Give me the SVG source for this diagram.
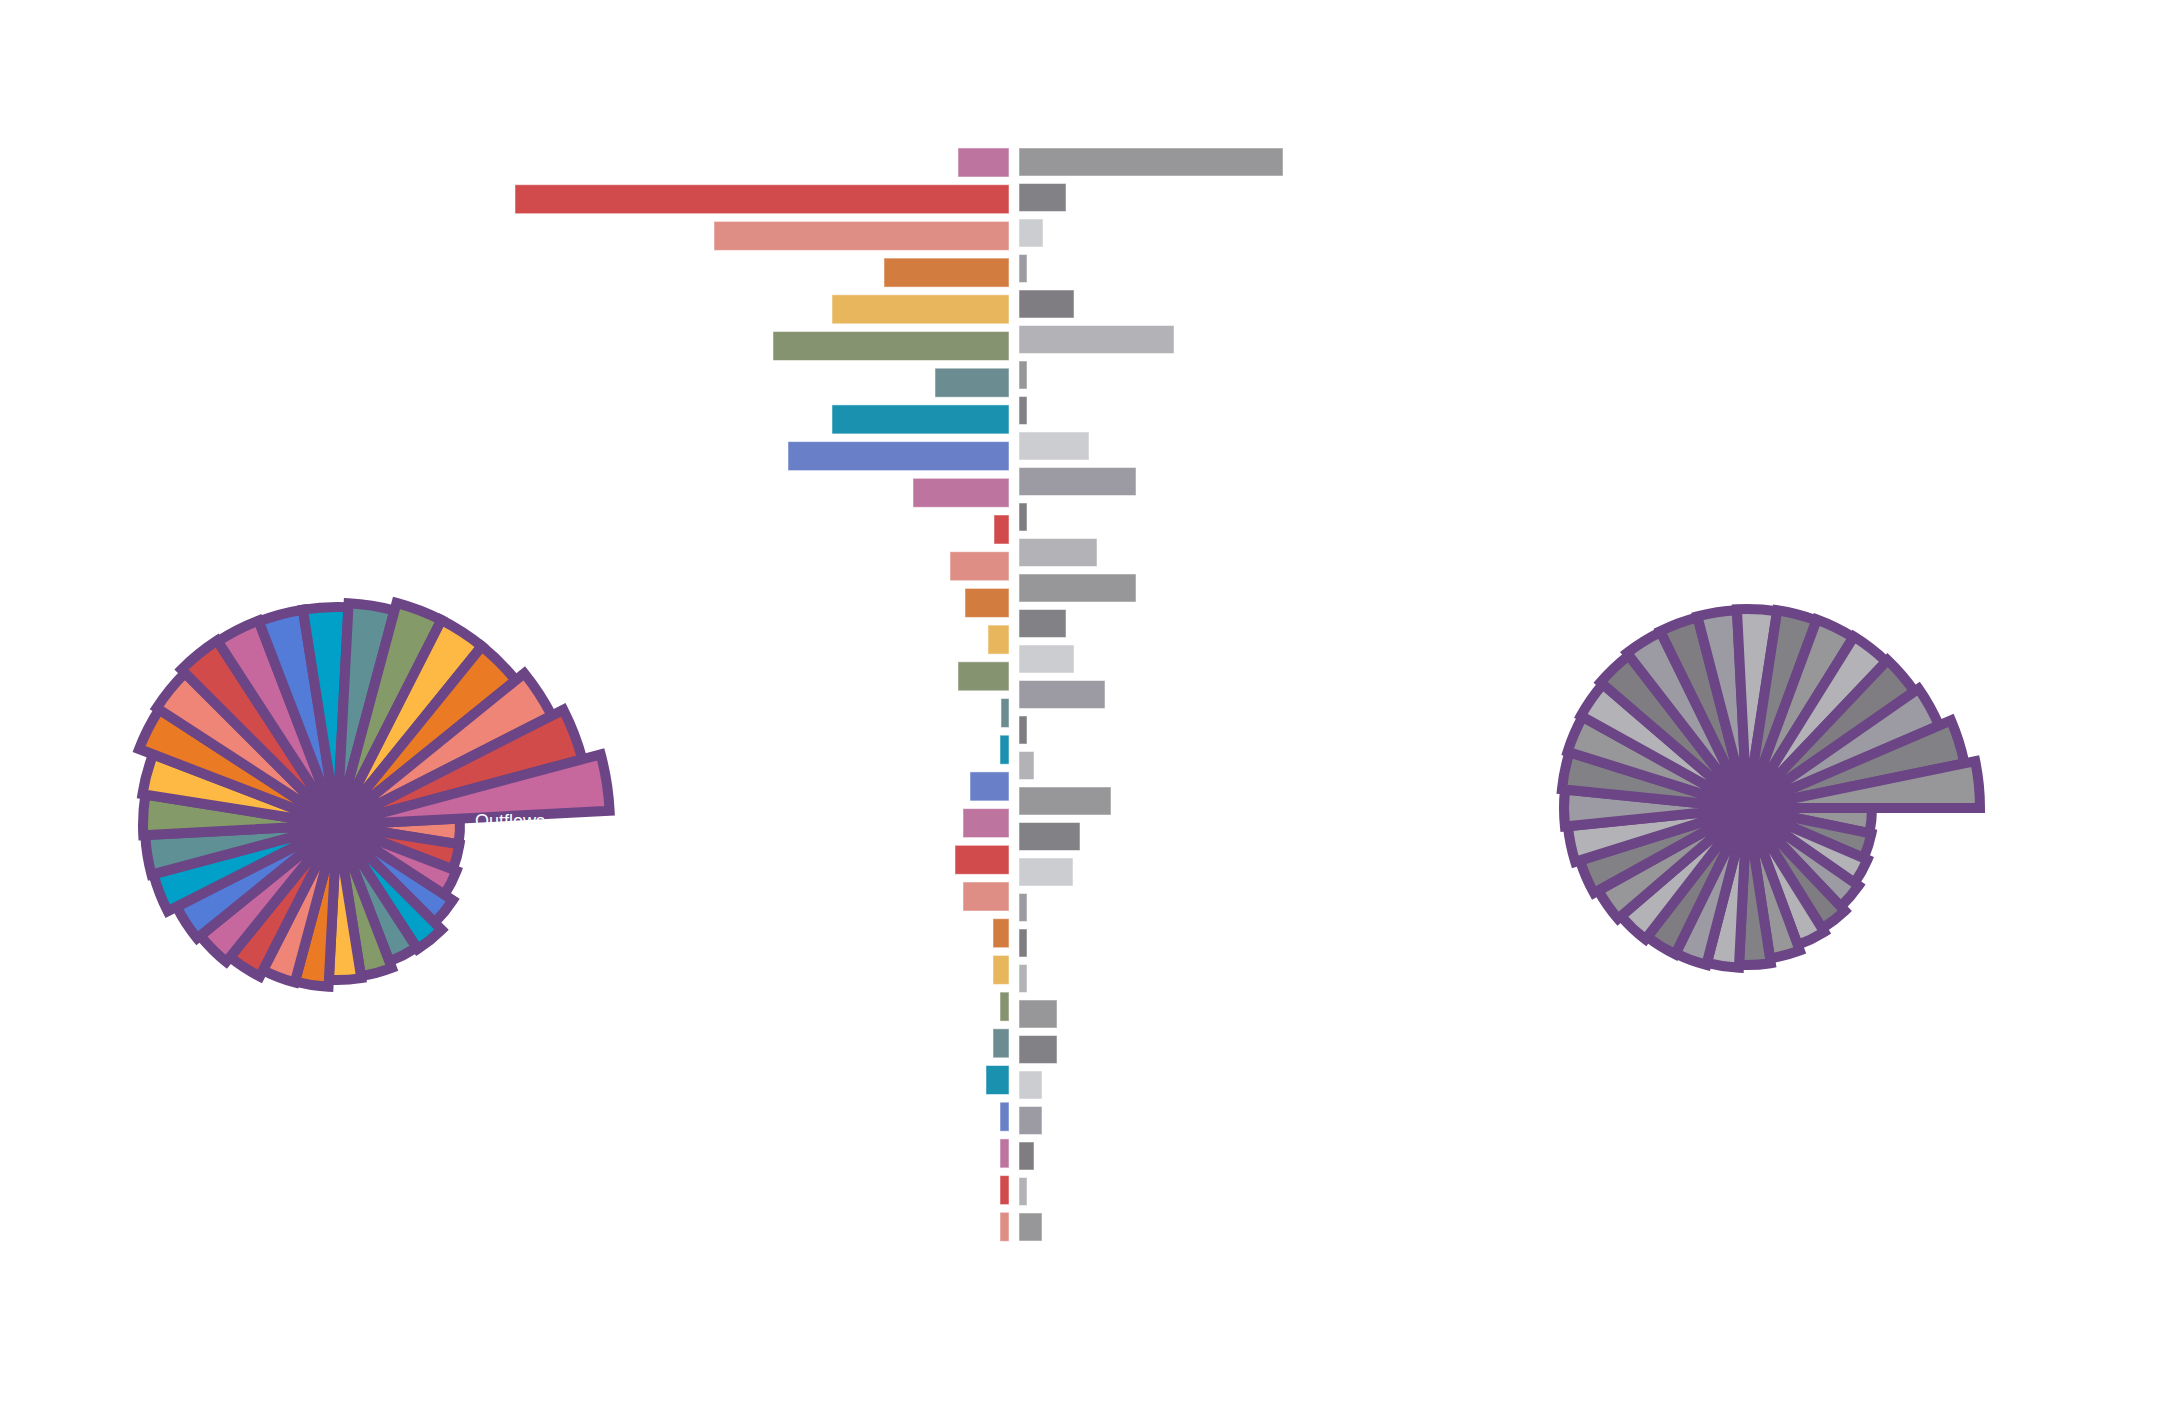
<svg xmlns="http://www.w3.org/2000/svg" width="2160" height="1419" viewBox="0 0 2160 1419">
<style>
.w{stroke:#6b4585;stroke-width:10;stroke-linejoin:miter}
.b{stroke:#fff;stroke-opacity:.5;stroke-width:1}
.c0{fill:#ef8577}.c1{fill:#d14b4b}.c2{fill:#c6679e}.c3{fill:#537bd8}.c4{fill:#00a0c8}.c5{fill:#5f9095}.c6{fill:#849a69}.c7{fill:#fdb944}.c8{fill:#eb7a25}
.g0{fill:#979799}.g1{fill:#828186}.g2{fill:#cccdd1}.g3{fill:#9c9ba3}.g4{fill:#7f7d81}.g5{fill:#b3b2b7}
.l0{fill:#bd75a0}.l1{fill:#d24b4c}.l2{fill:#de8e85}.l3{fill:#d27c3f}.l4{fill:#e8b65d}.l5{fill:#869370}.l6{fill:#6b8c91}.l7{fill:#1a91ae}.l8{fill:#6980c8}
.lab{fill:#fff;font-family:"Liberation Sans",Arial,sans-serif;font-size:18px}
</style>
<rect width="2160" height="1419" fill="#fff"/>
<g id="rose-left" transform="translate(337,825)">
<path class="w c0" transform="rotate(-3)" d="M0,0L123,0A123,123 0 0 1 120.31,25.57Z"/>
<path class="w c1" transform="rotate(9)" d="M0,0L124,0A124,124 0 0 1 121.29,25.78Z"/>
<path class="w c2" transform="rotate(21)" d="M0,0L128,0A128,128 0 0 1 125.2,26.61Z"/>
<path class="w c3" transform="rotate(33)" d="M0,0L138,0A138,138 0 0 1 134.98,28.69Z"/>
<path class="w c4" transform="rotate(45)" d="M0,0L148,0A148,148 0 0 1 144.77,30.77Z"/>
<path class="w c5" transform="rotate(57)" d="M0,0L146,0A146,146 0 0 1 142.81,30.35Z"/>
<path class="w c6" transform="rotate(69)" d="M0,0L153,0A153,153 0 0 1 149.66,31.81Z"/>
<path class="w c7" transform="rotate(81)" d="M0,0L155,0A155,155 0 0 1 151.61,32.23Z"/>
<path class="w c8" transform="rotate(93)" d="M0,0L162,0A162,162 0 0 1 158.46,33.68Z"/>
<path class="w c0" transform="rotate(105)" d="M0,0L163,0A163,163 0 0 1 159.44,33.89Z"/>
<path class="w c1" transform="rotate(117)" d="M0,0L170,0A170,170 0 0 1 166.29,35.34Z"/>
<path class="w c2" transform="rotate(129)" d="M0,0L176,0A176,176 0 0 1 172.15,36.59Z"/>
<path class="w c3" transform="rotate(141)" d="M0,0L180,0A180,180 0 0 1 176.07,37.42Z"/>
<path class="w c4" transform="rotate(153)" d="M0,0L190,0A190,190 0 0 1 185.85,39.5Z"/>
<path class="w c5" transform="rotate(165)" d="M0,0L192,0A192,192 0 0 1 187.8,39.92Z"/>
<path class="w c6" transform="rotate(177)" d="M0,0L194,0A194,194 0 0 1 189.76,40.33Z"/>
<path class="w c7" transform="rotate(189)" d="M0,0L197,0A197,197 0 0 1 192.7,40.96Z"/>
<path class="w c8" transform="rotate(201)" d="M0,0L212,0A212,212 0 0 1 207.37,44.08Z"/>
<path class="w c0" transform="rotate(213)" d="M0,0L215,0A215,215 0 0 1 210.3,44.7Z"/>
<path class="w c1" transform="rotate(225)" d="M0,0L220,0A220,220 0 0 1 215.19,45.74Z"/>
<path class="w c2" transform="rotate(237)" d="M0,0L219,0A219,219 0 0 1 214.21,45.53Z"/>
<path class="w c3" transform="rotate(249)" d="M0,0L218,0A218,218 0 0 1 213.23,45.32Z"/>
<path class="w c4" transform="rotate(261)" d="M0,0L218,0A218,218 0 0 1 213.23,45.32Z"/>
<path class="w c5" transform="rotate(273)" d="M0,0L222,0A222,222 0 0 1 217.15,46.16Z"/>
<path class="w c6" transform="rotate(285)" d="M0,0L230,0A230,230 0 0 1 224.97,47.82Z"/>
<path class="w c7" transform="rotate(297)" d="M0,0L230,0A230,230 0 0 1 224.97,47.82Z"/>
<path class="w c8" transform="rotate(309)" d="M0,0L230,0A230,230 0 0 1 224.97,47.82Z"/>
<path class="w c0" transform="rotate(321)" d="M0,0L241,0A241,241 0 0 1 235.73,50.11Z"/>
<path class="w c1" transform="rotate(333)" d="M0,0L254,0A254,254 0 0 1 248.45,52.81Z"/>
<path class="w c2" transform="rotate(345)" d="M0,0L273,0A273,273 0 0 1 267.03,56.76Z"/>
<circle r="47" fill="#6b4585"/>
<text class="lab" x="138" y="2">Outflows</text>
</g>
<g id="rose-right" transform="translate(1747,808)">
<path class="w g0" transform="rotate(0)" d="M0,0L125,0A125,125 0 0 1 122.44,25.16Z"/>
<path class="w g1" transform="rotate(11.61)" d="M0,0L127,0A127,127 0 0 1 124.4,25.56Z"/>
<path class="w g5" transform="rotate(23.23)" d="M0,0L131,0A131,131 0 0 1 128.32,26.37Z"/>
<path class="w g3" transform="rotate(34.84)" d="M0,0L136,0A136,136 0 0 1 133.22,27.37Z"/>
<path class="w g4" transform="rotate(46.45)" d="M0,0L142,0A142,142 0 0 1 139.09,28.58Z"/>
<path class="w g5" transform="rotate(58.06)" d="M0,0L146,0A146,146 0 0 1 143.01,29.39Z"/>
<path class="w g0" transform="rotate(69.68)" d="M0,0L152,0A152,152 0 0 1 148.89,30.59Z"/>
<path class="w g1" transform="rotate(81.29)" d="M0,0L157,0A157,157 0 0 1 153.79,31.6Z"/>
<path class="w g5" transform="rotate(92.9)" d="M0,0L160,0A160,160 0 0 1 156.72,32.2Z"/>
<path class="w g3" transform="rotate(104.52)" d="M0,0L162,0A162,162 0 0 1 158.68,32.61Z"/>
<path class="w g4" transform="rotate(116.13)" d="M0,0L163,0A163,163 0 0 1 159.66,32.81Z"/>
<path class="w g5" transform="rotate(127.74)" d="M0,0L166,0A166,166 0 0 1 162.6,33.41Z"/>
<path class="w g0" transform="rotate(139.35)" d="M0,0L170,0A170,170 0 0 1 166.52,34.22Z"/>
<path class="w g1" transform="rotate(150.97)" d="M0,0L175,0A175,175 0 0 1 171.42,35.22Z"/>
<path class="w g5" transform="rotate(162.58)" d="M0,0L180,0A180,180 0 0 1 176.32,36.23Z"/>
<path class="w g3" transform="rotate(174.19)" d="M0,0L183,0A183,183 0 0 1 179.25,36.83Z"/>
<path class="w g1" transform="rotate(185.81)" d="M0,0L186,0A186,186 0 0 1 182.19,37.44Z"/>
<path class="w g0" transform="rotate(197.42)" d="M0,0L188,0A188,188 0 0 1 184.15,37.84Z"/>
<path class="w g5" transform="rotate(209.03)" d="M0,0L190,0A190,190 0 0 1 186.11,38.24Z"/>
<path class="w g4" transform="rotate(220.65)" d="M0,0L193,0A193,193 0 0 1 189.05,38.85Z"/>
<path class="w g3" transform="rotate(232.26)" d="M0,0L196,0A196,196 0 0 1 191.99,39.45Z"/>
<path class="w g4" transform="rotate(243.87)" d="M0,0L197,0A197,197 0 0 1 192.97,39.65Z"/>
<path class="w g3" transform="rotate(255.48)" d="M0,0L198,0A198,198 0 0 1 193.95,39.85Z"/>
<path class="w g5" transform="rotate(267.1)" d="M0,0L199,0A199,199 0 0 1 194.93,40.05Z"/>
<path class="w g1" transform="rotate(278.71)" d="M0,0L200,0A200,200 0 0 1 195.91,40.25Z"/>
<path class="w g0" transform="rotate(290.32)" d="M0,0L201,0A201,201 0 0 1 196.89,40.46Z"/>
<path class="w g5" transform="rotate(301.94)" d="M0,0L202,0A202,202 0 0 1 197.87,40.66Z"/>
<path class="w g4" transform="rotate(313.55)" d="M0,0L204,0A204,204 0 0 1 199.82,41.06Z"/>
<path class="w g3" transform="rotate(325.16)" d="M0,0L209,0A209,209 0 0 1 204.72,42.07Z"/>
<path class="w g1" transform="rotate(336.77)" d="M0,0L222,0A222,222 0 0 1 217.46,44.68Z"/>
<path class="w g0" transform="rotate(348.39)" d="M0,0L233,0A233,233 0 0 1 228.23,46.9Z"/>
<circle r="47" fill="#6b4585"/>
<text class="lab" x="140" y="18">Population</text>
</g>
<g id="bars-left">
<rect class="b l0" x="958" y="148" width="51" height="29"/>
<rect class="b l1" x="515" y="184.7" width="494" height="29"/>
<rect class="b l2" x="714" y="221.4" width="295" height="29"/>
<rect class="b l3" x="884" y="258.1" width="125" height="29"/>
<rect class="b l4" x="832" y="294.8" width="177" height="29"/>
<rect class="b l5" x="773" y="331.5" width="236" height="29"/>
<rect class="b l6" x="935" y="368.2" width="74" height="29"/>
<rect class="b l7" x="832" y="404.9" width="177" height="29"/>
<rect class="b l8" x="788" y="441.6" width="221" height="29"/>
<rect class="b l0" x="913" y="478.3" width="96" height="29"/>
<rect class="b l1" x="994" y="515" width="15" height="29"/>
<rect class="b l2" x="950" y="551.7" width="59" height="29"/>
<rect class="b l3" x="965" y="588.4" width="44" height="29"/>
<rect class="b l4" x="988" y="625.1" width="21" height="29"/>
<rect class="b l5" x="958" y="661.8" width="51" height="29"/>
<rect class="b l6" x="1001" y="698.5" width="8" height="29"/>
<rect class="b l7" x="1000" y="735.2" width="9" height="29"/>
<rect class="b l8" x="970" y="771.9" width="39" height="29"/>
<rect class="b l0" x="963" y="808.6" width="46" height="29"/>
<rect class="b l1" x="955" y="845.3" width="54" height="29"/>
<rect class="b l2" x="963" y="882" width="46" height="29"/>
<rect class="b l3" x="993" y="918.7" width="16" height="29"/>
<rect class="b l4" x="993" y="955.4" width="16" height="29"/>
<rect class="b l5" x="1000" y="992.1" width="9" height="29"/>
<rect class="b l6" x="993" y="1028.8" width="16" height="29"/>
<rect class="b l7" x="986" y="1065.5" width="23" height="29"/>
<rect class="b l8" x="1000" y="1102.2" width="9" height="29"/>
<rect class="b l0" x="1000" y="1138.9" width="9" height="29"/>
<rect class="b l1" x="1000" y="1175.6" width="9" height="29"/>
<rect class="b l2" x="1000" y="1212.3" width="9" height="29"/>
</g>
<g id="bars-right">
<rect class="b g0" x="1019" y="148" width="264" height="28"/>
<rect class="b g1" x="1019" y="183.5" width="47" height="28"/>
<rect class="b g2" x="1019" y="219" width="24" height="28"/>
<rect class="b g3" x="1019" y="254.5" width="8" height="28"/>
<rect class="b g4" x="1019" y="290" width="55" height="28"/>
<rect class="b g5" x="1019" y="325.5" width="155" height="28"/>
<rect class="b g0" x="1019" y="361" width="8" height="28"/>
<rect class="b g1" x="1019" y="396.5" width="8" height="28"/>
<rect class="b g2" x="1019" y="432" width="70" height="28"/>
<rect class="b g3" x="1019" y="467.5" width="117" height="28"/>
<rect class="b g4" x="1019" y="503" width="8" height="28"/>
<rect class="b g5" x="1019" y="538.5" width="78" height="28"/>
<rect class="b g0" x="1019" y="574" width="117" height="28"/>
<rect class="b g1" x="1019" y="609.5" width="47" height="28"/>
<rect class="b g2" x="1019" y="645" width="55" height="28"/>
<rect class="b g3" x="1019" y="680.5" width="86" height="28"/>
<rect class="b g4" x="1019" y="716" width="8" height="28"/>
<rect class="b g5" x="1019" y="751.5" width="15" height="28"/>
<rect class="b g0" x="1019" y="787" width="92" height="28"/>
<rect class="b g1" x="1019" y="822.5" width="61" height="28"/>
<rect class="b g2" x="1019" y="858" width="54" height="28"/>
<rect class="b g3" x="1019" y="893.5" width="8" height="28"/>
<rect class="b g4" x="1019" y="929" width="8" height="28"/>
<rect class="b g5" x="1019" y="964.5" width="8" height="28"/>
<rect class="b g0" x="1019" y="1000" width="38" height="28"/>
<rect class="b g1" x="1019" y="1035.5" width="38" height="28"/>
<rect class="b g2" x="1019" y="1071" width="23" height="28"/>
<rect class="b g3" x="1019" y="1106.5" width="23" height="28"/>
<rect class="b g4" x="1019" y="1142" width="15" height="28"/>
<rect class="b g5" x="1019" y="1177.5" width="8" height="28"/>
<rect class="b g0" x="1019" y="1213" width="23" height="28"/>
</g>
</svg>
